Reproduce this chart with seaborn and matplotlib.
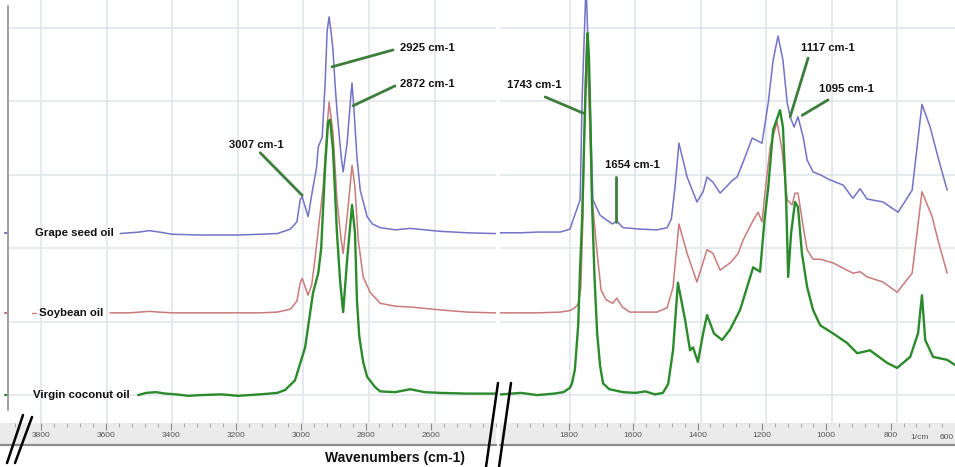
import matplotlib
matplotlib.use('Agg')
import matplotlib.pyplot as plt
import seaborn as sns
from matplotlib.lines import Line2D

# spectra (wavenumber cm-1, stacked absorbance)
grape_wn = [3559, 3530, 3500, 3470, 3440, 3400, 3315, 3200, 3132, 3080, 3040, 3020, 3010, 3004, 2986,
            2971, 2960, 2955, 2943, 2934, 2928, 2922, 2916, 2910, 2904, 2898, 2885, 2879, 2867, 2855,
            2852, 2846, 2837, 2827, 2806, 2790, 2766, 2720, 2675, 2583, 2500, 2422,
            2010, 1950, 1900, 1830, 1800, 1791, 1769, 1763, 1751, 1739, 1730, 1708, 1687, 1670, 1657,
            1638, 1586, 1534, 1503, 1490, 1479, 1467, 1442, 1412, 1393, 1381, 1363, 1341, 1326, 1302,
            1289, 1271, 1243, 1213, 1194, 1179, 1164, 1149, 1136, 1127, 1115, 1103, 1087, 1075, 1057,
            1035, 1005, 965, 935, 913, 892, 843, 797, 754, 724, 699, 675, 647]
grape_abs = [2.20, 2.21, 2.22, 2.24, 2.22, 2.19, 2.18, 2.18, 2.19, 2.20, 2.26, 2.36, 2.66, 2.70, 2.43,
             2.83, 3.10, 3.38, 3.51, 4.25, 4.95, 5.15, 4.95, 4.70, 4.25, 3.88, 3.24, 3.04, 3.43, 4.11,
             4.25, 3.88, 3.24, 2.79, 2.43, 2.33, 2.28, 2.25, 2.27, 2.23, 2.21, 2.20,
             2.21, 2.21, 2.22, 2.22, 2.26, 2.38, 2.66, 4.02, 5.60, 4.02, 2.66, 2.45, 2.38, 2.33, 2.37,
             2.28, 2.26, 2.25, 2.28, 2.40, 2.83, 3.43, 2.97, 2.63, 2.77, 2.97, 2.90, 2.75, 2.82, 2.93,
             2.97, 3.17, 3.50, 3.43, 3.98, 4.56, 4.89, 4.56, 3.98, 3.79, 3.65, 3.79, 3.51, 3.20, 3.04,
             3.00, 2.93, 2.86, 2.68, 2.81, 2.67, 2.63, 2.49, 2.79, 3.96, 3.65, 3.24, 2.79]

soy_wn = [3590, 3530, 3470, 3440, 3400, 3315, 3200, 3132, 3080, 3040, 3020, 3010, 3004, 2986, 2975,
          2965, 2955, 2940, 2928, 2922, 2910, 2898, 2885, 2879, 2864, 2852, 2843, 2833, 2818, 2797,
          2766, 2720, 2675, 2583, 2500, 2422,
          2010, 1950, 1900, 1830, 1800, 1785, 1775, 1767, 1760, 1755, 1749, 1742, 1733, 1717, 1705,
          1690, 1670, 1657, 1640, 1617, 1534, 1503, 1485, 1467, 1442, 1412, 1381, 1363, 1341, 1311,
          1302, 1286, 1271, 1240, 1225, 1213, 1204, 1188, 1167, 1152, 1136, 1121, 1112, 1103, 1087,
          1075, 1057, 1035, 996, 935, 913, 892, 843, 800, 754, 724, 693, 675, 647]
soy_abs = [1.12, 1.12, 1.14, 1.13, 1.12, 1.12, 1.12, 1.12, 1.13, 1.17, 1.28, 1.53, 1.59, 1.36, 1.50,
           1.85, 2.25, 2.83, 3.65, 3.99, 3.57, 2.66, 2.11, 1.93, 2.56, 3.13, 2.83, 2.11, 1.61, 1.40,
           1.25, 1.21, 1.20, 1.16, 1.13, 1.12,
           1.12, 1.12, 1.12, 1.13, 1.15, 1.19, 1.24, 1.45, 2.50, 4.00, 4.84, 4.00, 2.70, 1.93, 1.43,
           1.30, 1.25, 1.32, 1.20, 1.13, 1.13, 1.19, 1.47, 2.33, 1.93, 1.54, 1.98, 1.93, 1.70, 1.80,
           1.84, 1.93, 2.11, 2.38, 2.49, 2.36, 2.75, 3.38, 3.72, 3.34, 2.66, 2.59, 2.75, 2.75, 2.29,
           1.98, 1.85, 1.85, 1.80, 1.66, 1.68, 1.61, 1.54, 1.40, 1.66, 2.77, 2.43, 2.11, 1.66]

coco_wn = [3504, 3480, 3450, 3420, 3390, 3350, 3315, 3250, 3200, 3132, 3080, 3056, 3026, 2995, 2971,
           2955, 2946, 2934, 2925, 2919, 2910, 2898, 2888, 2879, 2867, 2852, 2843, 2837, 2830, 2818,
           2806, 2782, 2766, 2720, 2675, 2630, 2583, 2500, 2422,
           2010, 1950, 1900, 1850, 1820, 1800, 1794, 1785, 1775, 1769, 1763, 1757, 1750, 1746, 1742,
           1737, 1733, 1725, 1717, 1708, 1699, 1680, 1638, 1600, 1570, 1540, 1516, 1500, 1485, 1470,
           1448, 1433, 1424, 1409, 1393, 1381, 1360, 1335, 1311, 1280, 1240, 1219, 1205, 1194, 1179,
           1158, 1149, 1139, 1133, 1124, 1112, 1103, 1091, 1075, 1057, 1035, 996, 953, 922, 883, 831,
           800, 760, 736, 724, 714, 690, 647, 623]
coco_abs = [0.00, 0.03, 0.04, 0.02, 0.01, -0.01, 0.00, 0.01, -0.01, 0.01, 0.03, 0.07, 0.20, 0.65, 1.39,
            1.66, 2.00, 3.11, 3.72, 3.75, 3.34, 2.21, 1.53, 1.13, 1.84, 2.59, 2.21, 1.29, 0.80, 0.45,
            0.25, 0.11, 0.05, 0.04, 0.08, 0.04, 0.03, 0.02, 0.02,
            0.01, 0.03, 0.00, 0.02, 0.04, 0.10, 0.16, 0.35, 0.95, 1.74, 2.40, 3.40, 4.50, 4.93, 4.60,
            3.60, 2.66, 1.60, 0.84, 0.40, 0.16, 0.08, 0.04, 0.03, 0.05, 0.01, 0.03, 0.15, 0.61, 1.53,
            1.02, 0.61, 0.65, 0.45, 0.84, 1.09, 0.84, 0.75, 0.89, 1.16, 1.74, 1.68, 2.40, 2.83, 3.61,
            3.88, 3.65, 2.62, 1.61, 2.21, 2.63, 2.56, 1.93, 1.47, 1.16, 0.95, 0.84, 0.71, 0.57, 0.61, 0.44,
            0.37, 0.52, 0.84, 1.36, 0.75, 0.52, 0.48, 0.41]

oil_names = ['Grape seed oil', 'Soybean oil', 'Virgin coconut oil']
oil_baselines = [2.21, 1.12, 0.0]
oil_colors = ['#7272c6', '#c97a7a', '#2b8a2b']

# peak annotations: label, text position, line start, line end
left_notes = [('2925 cm-1', (2705, 4.73), (2727, 4.70), (2913, 4.47)),
              ('2872 cm-1', (2705, 4.24), (2721, 4.21), (2849, 3.94)),
              ('3007 cm-1', (3144, 3.41), (3132, 3.30), (3004, 2.72))]
right_notes = [('1743 cm-1', (1910, 4.22), (1876, 4.06), (1760, 3.84)),
               ('1654 cm-1', (1610, 3.13), (1659, 2.97), (1659, 2.36)),
               ('1117 cm-1', (1011, 4.73), (1072, 4.59), (1127, 3.79)),
               ('1095 cm-1', (956, 4.17), (1011, 4.02), (1090, 3.81))]

sns.set_style('white')
plt.rcParams['font.family'] = ['Liberation Sans', 'DejaVu Sans']

W, H = 955, 467
fig = plt.figure(figsize=(W / 100, H / 100), dpi=100)


def rect(x0, y0, x1, y1):
    return [x0 / W, 1 - y1 / H, (x1 - x0) / W, (y1 - y0) / H]


axL = fig.add_axes(rect(8, 0, 496, 423))
axR = fig.add_axes(rect(500, 0, 955, 423))
bandL = fig.add_axes(rect(0, 423, 496, 445))
bandR = fig.add_axes(rect(500, 423, 955, 445))

axL.set_xlim(3901, 2413)
axR.set_xlim(2014, 623)
bandL.set_xlim(3925, 2413)
bandR.set_xlim(2014, 623)

series = [(grape_wn, grape_abs), (soy_wn, soy_abs), (coco_wn, coco_abs)]
widths = [1.1, 1.1, 1.7]
for ax in (axL, axR):
    for (wn, ab), col, lw in zip(series, oil_colors, widths):
        sns.lineplot(x=wn, y=ab, ax=ax, color=col, lw=lw, sort=False, estimator=None)
    ax.set_ylim(-0.38, 5.38)
    ax.set_yticks([0, 1, 2, 3, 4, 5])
    ax.grid(True, color='#e2e5eb', lw=1.2)
    ax.set_axisbelow(True)
    ax.tick_params(axis='both', length=0, labelbottom=False, labelleft=False)
    for s in ax.spines.values():
        s.set_visible(False)
    ax.set_xlabel('')
    ax.set_ylabel('')

axL.set_xticks(range(3800, 2500, -200))
axR.set_xticks(range(1800, 700, -200))

# left scale of the instrument plot
axL.spines['left'].set_visible(True)
axL.spines['left'].set_color('#a0a0a0')
axL.spines['left'].set_linewidth(1.4)
axL.spines['left'].set_bounds(-0.2, 5.3)
axL.set_yticks([2.8, 3.0, 3.2, 3.4, 3.6, 3.8, 4.0], minor=True)
axL.tick_params(axis='y', which='minor', length=3, color='#909090', direction='out')
for b, col in zip(oil_baselines, oil_colors):
    axL.plot([-0.007, 0], [b, b], transform=axL.get_yaxis_transform(), color=col, lw=1.5, clip_on=False)
axL.plot([0.05, 0.058], [1.12, 1.12], transform=axL.get_yaxis_transform(), color=oil_colors[1], lw=1)

label_x = [3818, 3806, 3824]
for name, b, x in zip(oil_names, oil_baselines, label_x):
    axL.text(x, b, name, fontsize=8.2, fontweight='bold', ha='left', va='center', color='#111111')

green_note = '#3d7d3d'
for ax, notes in ((axL, left_notes), (axR, right_notes)):
    for label, tpos, p0, p1 in notes:
        ax.plot([p0[0], p1[0]], [p0[1], p1[1]], color=green_note, lw=2)
        ha = 'left' if tpos[0] == 2705 else 'center'
        ax.text(tpos[0], tpos[1], label, fontsize=8.1, fontweight='bold', ha=ha, va='center', color='#111111')

# wavenumber strip under the plot
for band, majors, lo, hi in ((bandL, range(3800, 2500, -200), 3880, 2400),
                             (bandR, range(1800, 700, -200), 2000, 600)):
    band.set_facecolor('#ebebeb')
    band.set_ylim(0, 1)
    band.set_yticks([])
    band.set_xticks(list(majors))
    band.set_xticks(list(range(lo, hi - 1, -40)), minor=True)
    band.set_xticklabels([str(m) for m in majors])
    band.tick_params(axis='x', which='major', top=True, bottom=False, direction='in', length=5,
                     color='#8a8a8a', labelsize=6, labelcolor='#555555', pad=-9.2)
    band.tick_params(axis='x', which='minor', top=True, bottom=False, direction='in', length=3,
                     color='#9a9a9a')
    for k, s in band.spines.items():
        s.set_visible(k == 'bottom')
    band.spines['bottom'].set_color('#8c8c8c')
    band.spines['bottom'].set_linewidth(1.6)

bandR.text(711, 0.35, '1/cm', fontsize=6, color='#555555', ha='center', va='center')
bandR.text(0.998, 0.35, '600', fontsize=6, color='#555555', ha='right', va='center',
           transform=bandR.transAxes)

fig.text(395 / W, 1 - 458 / H, 'Wavenumbers (cm-1)', fontsize=10, fontweight='bold',
         ha='center', va='center', color='#111111')

# axis break marks
for (x0, y0), (x1, y1) in (((7, 463), (23, 415)), ((15, 463), (32, 417)),
                           ((486, 467), (498, 383)), ((499, 467), (511, 383))):
    fig.add_artist(Line2D([x0 / W, x1 / W], [1 - y0 / H, 1 - y1 / H], color='black', lw=1.8))

fig.savefig('out.png', dpi=100)
